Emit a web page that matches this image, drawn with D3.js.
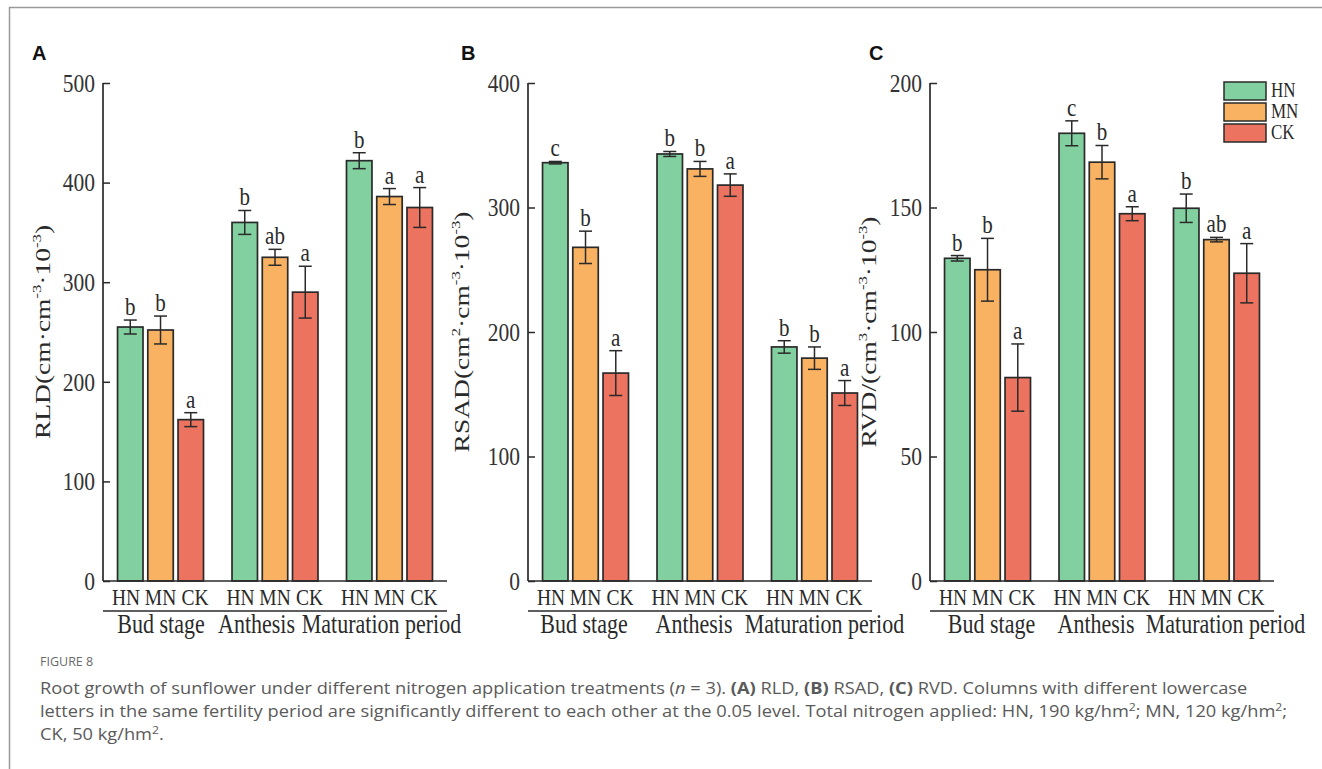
<!DOCTYPE html>
<html><head><meta charset="utf-8">
<script src="https://cdn.jsdelivr.net/npm/d3@7"></script>
<style>body{margin:0;background:#fff}</style>
</head><body><svg id="c" width="1322" height="769"></svg>
<script>
const stages = ["Bud stage", "Anthesis", "Maturation period"];
const treatments = ["HN", "MN", "CK"];
const colors = ["#82cf9f", "#f9b262", "#ec735f"];

const rldMean = [[255, 252, 162], [360, 325, 290], [422, 386, 375]];
const rldErr = [[7, 14, 7], [12, 8, 26], [8, 8, 20]];
const rldLetters = [["b", "b", "a"], ["b", "ab", "a"], ["b", "a", "a"]];
const rldTicks = [0, 100, 200, 300, 400, 500];

const rsadMean = [[336, 268, 167], [343, 331, 318], [188, 179, 151]];
const rsadErr = [[1, 13, 18], [2, 6, 9], [5, 9, 10]];
const rsadLetters = [["c", "b", "a"], ["b", "b", "a"], ["b", "b", "a"]];
const rsadTicks = [0, 100, 200, 300, 400];

const rvdMean = [[129.6, 125, 81.7], [179.8, 168.2, 147.5], [149.7, 137.1, 123.6]];
const rvdErr = [[1.1, 12.6, 13.5], [5, 6.7, 2.8], [5.7, 0.9, 11.9]];
const rvdLetters = [["b", "b", "a"], ["c", "b", "a"], ["b", "ab", "a"]];
const rvdTicks = [0, 50, 100, 150, 200];

const svg = d3.select("#c");
const serif = "'Liberation Serif','Times New Roman',serif";
const ink = "#2a2a2a";
const K = 1.2; // vertical stretch of the figure's lettering

function sText(parent, x, y, str, size, anchor) {
  return parent.append("text").attr("transform", `translate(${x},${y}) scale(1,${K})`)
    .attr("text-anchor", anchor || "middle").attr("font-family", serif).attr("font-size", size)
    .attr("fill", ink).text(str);
}

// frame lines
svg.append("line").attr("x1", 9).attr("x2", 1322).attr("y1", 7.5).attr("y2", 7.5).attr("stroke", "#9a9a9a").attr("stroke-width", 1.5);
svg.append("line").attr("x1", 9.5).attr("x2", 9.5).attr("y1", 7).attr("y2", 769).attr("stroke", "#9a9a9a").attr("stroke-width", 1.5);

const panels = [
  {letter: "A", lx: 32, x0: 103, mean: rldMean, err: rldErr, letters: rldLetters, ticks: rldTicks,
   title: [["RLD(cm·cm", 0], ["-3", 1], ["·10", 0], ["-3", 1], [")", 0]], titleDx: -53,
   groupNudge: [0.5, -18.5, -8]},
  {letter: "B", lx: 461, x0: 528, mean: rsadMean, err: rsadErr, letters: rsadLetters, ticks: rsadTicks,
   title: [["RSAD(cm", 0], ["2", 1], ["·cm", 0], ["-3", 1], ["·10", 0], ["-3", 1], [")", 0]], titleDx: -59,
   groupNudge: [-1.5, -6, 10]},
  {letter: "C", lx: 869, x0: 930, mean: rvdMean, err: rvdErr, letters: rvdLetters, ticks: rvdTicks,
   title: [["RVD/(cm", 0], ["3", 1], ["·cm", 0], ["-3", 1], ["·10", 0], ["-3", 1], [")", 0]], titleDx: -54,
   groupNudge: [4, -6, 9]}
];

const yZero = 581, yTop = 83, pw = 344;

panels.forEach((p) => {
  const g = svg.append("g");
  const maxV = p.ticks[p.ticks.length - 1];
  const y = d3.scaleLinear().domain([0, maxV]).range([yZero, yTop]);
  const x0 = d3.scaleBand().domain(stages).range([p.x0, p.x0 + pw]).paddingInner(0.249).paddingOuter(0.127);
  const x1 = d3.scaleBand().domain(treatments).range([0, x0.bandwidth()]).paddingInner(0.158).paddingOuter(0);

  // panel letter
  g.append("text").attr("x", p.lx).attr("y", 60).text(p.letter)
    .attr("font-family", "'Liberation Sans',Arial,sans-serif").attr("font-weight", "bold").attr("font-size", 20).attr("fill", "#111");

  stages.forEach((s, si) => {
    const gc = x0(s) + x0.bandwidth() / 2;
    treatments.forEach((t, ti) => {
      const v = p.mean[si][ti], e = p.err[si][ti];
      const bx = x0(s) + x1(t), bw = x1.bandwidth(), cx = bx + bw / 2;
      g.append("rect").attr("x", bx).attr("y", y(v)).attr("width", bw).attr("height", yZero - y(v))
        .attr("fill", colors[ti]).attr("stroke", ink).attr("stroke-width", 1.7);
      const cap = 6.5;
      g.append("line").attr("x1", cx).attr("x2", cx).attr("y1", y(v + e)).attr("y2", y(v - e)).attr("stroke", ink).attr("stroke-width", 1.5);
      [v + e, v - e].forEach(w => g.append("line").attr("x1", cx - cap).attr("x2", cx + cap).attr("y1", y(w)).attr("y2", y(w)).attr("stroke", ink).attr("stroke-width", 1.5));
      sText(g, cx, y(v + e) - 5, p.letters[si][ti], 21);
      // category label (spread as in the original)
      sText(g, gc + (ti - 1) * 34.5, 605, t, 19.5);
    });
    sText(g, gc + p.groupNudge[si], 633, s, 22);
  });

  // y axis
  const ya = d3.axisLeft(y).tickValues(p.ticks).tickSize(-7).tickPadding(8).tickFormat(d3.format("d"));
  const ag = g.append("g").attr("transform", `translate(${p.x0},0)`).call(ya);
  ag.select(".domain").attr("stroke", ink).attr("stroke-width", 1.7).attr("d", `M0,${yZero}V${yTop}`);
  ag.selectAll(".tick line").attr("stroke", ink).attr("stroke-width", 1.5);
  ag.selectAll(".tick text").attr("font-family", serif).attr("font-size", 21.5).attr("fill", "#333")
    .attr("transform", `scale(1,${K})`);

  // x axis line and group underline
  g.append("line").attr("x1", p.x0).attr("x2", p.x0 + pw).attr("y1", yZero).attr("y2", yZero).attr("stroke", ink).attr("stroke-width", 1.7);
  g.append("line").attr("x1", p.x0).attr("x2", p.x0 + pw).attr("y1", 611).attr("y2", 611).attr("stroke", ink).attr("stroke-width", 1.7);

  // y title (rotated, stretched along its length)
  const tt = g.append("text").attr("transform", `translate(${p.x0 + p.titleDx},${(yZero + yTop) / 2}) rotate(-90) scale(1.28,1)`)
    .attr("text-anchor", "middle").attr("font-family", serif).attr("font-size", 21.5).attr("fill", ink);
  let prevSup = 0;
  p.title.forEach(([txt, sup]) => {
    const ts = tt.append("tspan").text(txt);
    if (sup) ts.attr("font-size", 13).attr("dy", prevSup ? 0 : -9);
    else ts.attr("dy", prevSup ? 9 : 0);
    prevSup = sup;
  });
});

// legend
const lg = svg.append("g");
treatments.forEach((t, i) => {
  lg.append("rect").attr("x", 1224).attr("y", 82 + i * 21).attr("width", 42).attr("height", 18)
    .attr("fill", colors[i]).attr("stroke", ink).attr("stroke-width", 1.5);
  sText(lg, 1271, 97 + i * 21, t, 17, "start");
});

// caption
const capFont = "'Open Sans','Noto Sans',sans-serif";
svg.append("text").attr("x", 40).attr("y", 666).text("FIGURE 8")
  .attr("font-family", capFont).attr("font-size", 12.5).attr("fill", "#6a6a6a");
const capLines = [
  [["Root growth of sunflower under different nitrogen application treatments (", ""], ["n", "i"], [" = 3). ", ""], ["(A)", "b"], [" RLD, ", ""], ["(B)", "b"], [" RSAD, ", ""], ["(C)", "b"], [" RVD. Columns with different lowercase", ""]],
  [["letters in the same fertility period are significantly different to each other at the 0.05 level. Total nitrogen applied: HN, 190 kg/hm", ""], ["2", "s"], ["; MN, 120 kg/hm", ""], ["2", "s"], [";", ""]],
  [["CK, 50 kg/hm", ""], ["2", "s"], [".", ""]]
];
const capYs = [694, 717, 740];
const capX = 40;
const capTexts = capLines.map((line, li) => {
  const t = svg.append("text").attr("x", 0).attr("y", 0).attr("font-family", capFont).attr("font-size", 16.5).attr("fill", "#5a5a5a");
  let prevS = false;
  line.forEach(([s, k]) => {
    const ts = t.append("tspan").text(s);
    if (k === "i") ts.attr("font-style", "italic");
    if (k === "b") ts.attr("font-weight", "bold");
    if (k === "s") { ts.attr("font-size", 11).attr("dy", -6.5); prevS = true; }
    else if (prevS) { ts.attr("dy", 6.5); prevS = false; }
  });
  return t;
});
// the caption face is narrower than Open Sans: compress horizontally to the original's line width
const sx = (1288 - capX) / capTexts[1].node().getComputedTextLength();
capTexts.forEach((t, i) => t.attr("transform", `translate(${capX},${capYs[i]}) scale(${sx},1)`));
</script></body></html>
